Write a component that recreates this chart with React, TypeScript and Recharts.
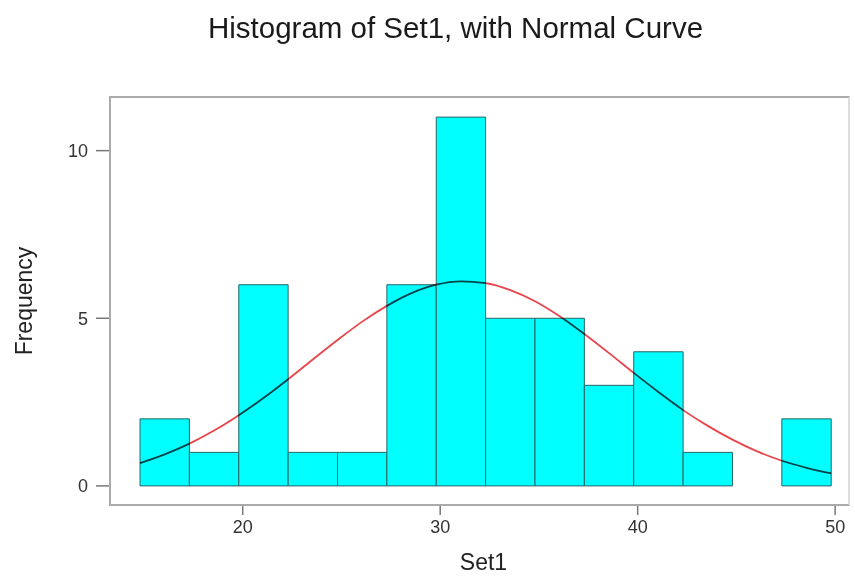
import React from 'react';
import { ComposedChart, Line, XAxis, YAxis, ReferenceArea } from 'recharts';

// histogram bins (left edge, width 2.5) and their counts
const binEdges = [14.8, 17.3, 19.8, 22.3, 24.8, 27.3, 29.8, 32.3, 34.8, 37.3, 39.8, 42.3, 44.8, 47.3, 49.8];
const binCounts = [2, 1, 6, 1, 1, 6, 11, 5, 5, 3, 4, 1, 0, 2];

// normal curve
const curveX = [
  14.8, 16.05, 17.3, 18.55, 19.8, 21.05, 22.3, 23.55, 24.8, 26.05, 27.3, 28.55, 29.8, 31.05, 32.3,
  33.55, 34.8, 36.05, 37.3, 38.55, 39.8, 41.05, 42.3, 43.55, 44.8, 46.05, 47.3, 48.55, 49.8,
];
const curveY = [
  0.68, 0.94, 1.26, 1.65, 2.11, 2.62, 3.18, 3.77, 4.35, 4.9, 5.37, 5.75, 6.0, 6.1, 6.05,
  5.84, 5.51, 5.06, 4.53, 3.96, 3.37, 2.8, 2.26, 1.79, 1.38, 1.03, 0.75, 0.54, 0.37,
];

const xTicks = [20, 30, 40, 50];
const yTicks = [0, 5, 10];

const curveData = curveX.map((x, i) => ({ x, y: curveY[i] }));

const font = '"Liberation Sans", Arial, sans-serif';

const App = () => {
  return (
    <div style={{ position: 'absolute', left: 0, top: 0, width: 855, height: 577, background: '#fff', fontFamily: font }}>
      <div style={{ position: 'absolute', left: 0, width: 855, top: 11, textAlign: 'center', fontSize: 29.5, color: '#1a1a1a', paddingLeft: 56, boxSizing: 'border-box', whiteSpace: 'nowrap' }}>
        Histogram of Set1, with Normal Curve
      </div>
      <ComposedChart width={855} height={577} data={curveData} margin={{ top: 97, right: 7, bottom: 33, left: 50 }}>
        <XAxis
          dataKey="x"
          type="number"
          domain={[13.28, 50.65]}
          ticks={xTicks}
          allowDataOverflow
          axisLine={false}
          tickSize={11}
          tickMargin={5}
          height={40}
          tickLine={{ stroke: '#777', strokeWidth: 1.5 }}
          tick={{ fill: '#333', fontSize: 18, fontFamily: font }}
        />
        <YAxis
          type="number"
          domain={[-0.54, 11.6]}
          ticks={yTicks}
          allowDataOverflow
          axisLine={false}
          tickSize={14}
          tickMargin={8}
          width={60}
          tickLine={{ stroke: '#777', strokeWidth: 1.5 }}
          tick={{ fill: '#333', fontSize: 18, fontFamily: font }}
        />
        {binCounts.map((c, i) =>
          c > 0 ? (
            <ReferenceArea
              key={i}
              x1={binEdges[i]}
              x2={binEdges[i + 1]}
              y1={0}
              y2={c}
              fill="#00ffff"
              fillOpacity={1}
              stroke="#2b6464"
              strokeWidth={1}
              ifOverflow="visible"
            />
          ) : null
        )}
        <Line
          dataKey="y"
          type="monotone"
          dot={false}
          stroke="#e3232b"
          strokeWidth={1.8}
          strokeOpacity={0.85}
          isAnimationActive={false}
          style={{ mixBlendMode: 'multiply' }}
        />
      </ComposedChart>
      <div style={{ position: 'absolute', left: 109, top: 96, width: 741, height: 410, border: '2px solid #aaa', borderRightColor: '#ddd', boxSizing: 'border-box', pointerEvents: 'none' }} />
      <div style={{ position: 'absolute', left: 0, width: 855, top: 549, paddingLeft: 112, boxSizing: 'border-box', textAlign: 'center', fontSize: 23, color: '#222' }}>
        Set1
      </div>
      <div style={{ position: 'absolute', left: 24, top: 301, transform: 'translate(-50%, -50%) rotate(-90deg)', fontSize: 23, color: '#222', whiteSpace: 'nowrap' }}>
        Frequency
      </div>
    </div>
  );
};

export default App;
